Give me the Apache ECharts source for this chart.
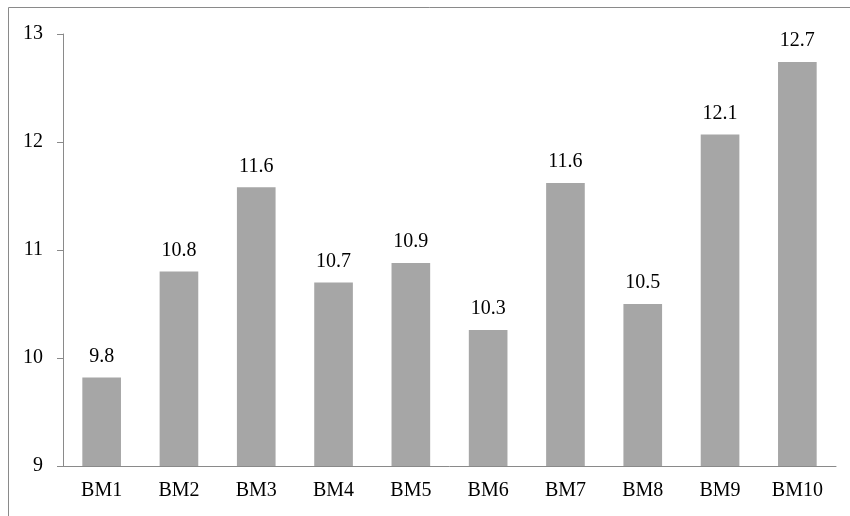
<!DOCTYPE html>
<html>
<head>
<meta charset="utf-8">
<script src="https://cdn.jsdelivr.net/npm/echarts@6/dist/echarts.min.js"></script>
<style>
html,body{margin:0;padding:0;background:#fff;}
#main{width:850px;height:516px;}
</style>
</head>
<body>
<div id="main"></div>
<script>
const categories = ['BM1','BM2','BM3','BM4','BM5','BM6','BM7','BM8','BM9','BM10'];
const values = [9.82, 10.8, 11.58, 10.7, 10.88, 10.26, 11.62, 10.5, 12.07, 12.74];

const chart = echarts.init(document.getElementById('main'), null, {renderer:'canvas'});
const font = 'Liberation Serif, Times New Roman, serif';
chart.setOption({
  animation: false,
  backgroundColor: '#fff',
  graphic: [{
    type: 'rect',
    shape: {x: 8.5, y: 7.5, width: 900, height: 600},
    style: {fill: 'none', stroke: '#8a8a8a', lineWidth: 1},
    silent: true
  }],
  grid: {left: 63, right: 14, top: 34, bottom: 50},
  xAxis: {
    type: 'category',
    data: categories,
    axisLine: {lineStyle: {color: '#8a8a8a', width: 1}},
    axisTick: {show: false},
    axisLabel: {color: '#000', fontFamily: font, fontSize: 20, margin: 15}
  },
  yAxis: {
    type: 'value',
    min: 9, max: 13, interval: 1,
    axisLine: {show: true, lineStyle: {color: '#8a8a8a', width: 1}},
    axisTick: {show: true, length: 6, lineStyle: {color: '#8a8a8a'}},
    splitLine: {show: false},
    axisLabel: {color: '#000', fontFamily: font, fontSize: 20, margin: 20}
  },
  series: [{
    type: 'bar',
    data: values,
    barCategoryGap: '50%',
    itemStyle: {color: '#a6a6a6'},
    label: {
      show: true, position: 'top', distance: 11,
      color: '#000', fontFamily: font, fontSize: 20,
      formatter: p => p.value.toFixed(1)
    }
  }]
});
</script>
</body>
</html>
